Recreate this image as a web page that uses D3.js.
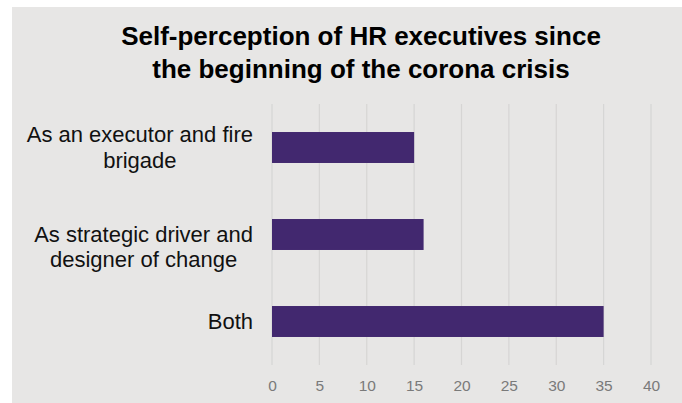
<!DOCTYPE html>
<html><head><meta charset="utf-8">
<script src="https://cdn.jsdelivr.net/npm/d3@7"></script>
<style>body{margin:0;background:#fff}svg{display:block}</style>
</head><body>
<script>
const categories = [["As an executor and fire","brigade"],["As strategic driver and","designer of change"],["Both"]];
const values = [15, 16, 35];
const tickValues = [0,5,10,15,20,25,30,35,40];
const titleLines = ["Self-perception of HR executives since","the beginning of the corona crisis"];

const W = 682, H = 403;
const svg = d3.select("body").append("svg").attr("width", W).attr("height", H);
svg.append("rect").attr("x",12).attr("y",7).attr("width",W-12).attr("height",H-7).attr("fill","#e7e6e5");

const x = d3.scaleLinear().domain([0,40]).range([272,651]);
const y = d3.scaleBand().domain(d3.range(categories.length)).range([104,365]).paddingInner(0.644).paddingOuter(0.322);

// gridlines
svg.append("g").selectAll("line").data(tickValues).join("line")
  .attr("x1",d=>x(d)).attr("x2",d=>x(d)).attr("y1",104).attr("y2",365)
  .attr("stroke","#d6d5d4").attr("stroke-width",1.2);

// bars
svg.append("g").selectAll("rect").data(values).join("rect")
  .attr("x",x(0)).attr("y",(d,i)=>y(i)).attr("width",d=>x(d)-x(0)).attr("height",y.bandwidth())
  .attr("fill","#42286f");

// x axis
const xAxis = d3.axisBottom(x).tickValues(tickValues).tickSize(0).tickPadding(0);
const gx = svg.append("g").attr("transform","translate(0,380)").call(xAxis);
gx.select(".domain").remove();
gx.selectAll("text").attr("font-family","Liberation Sans, Arial, sans-serif").attr("font-size",15.5).attr("fill","#7a7a7a").attr("dy","0.71em");

// category labels (Excel-style wrapped labels, block right-aligned, lines centred)
const labelRight = 253, lh = 25.5;
const labelShift = i => (i === 1 ? 12.5 : 0);
categories.forEach((lines,i)=>{
  const cy = y(i) + y.bandwidth()/2 + labelShift(i);
  const g = svg.append("g");
  const texts = lines.map((t,j)=> g.append("text").text(t)
    .attr("font-family","Liberation Sans, Arial, sans-serif").attr("font-size",22).attr("fill","#111")
    .attr("text-anchor","middle").attr("dominant-baseline","central")
    .attr("y", cy + (j - (lines.length-1)/2)*lh));
  const widths = texts.map(t=>t.node().getComputedTextLength());
  const maxW = d3.max(widths);
  texts.forEach(t=>t.attr("x", labelRight - maxW/2));
});

// title
svg.append("g").selectAll("text").data(titleLines).join("text")
  .attr("x",361).attr("y",(d,i)=>36+i*33).attr("dominant-baseline","central")
  .attr("text-anchor","middle").attr("font-family","Liberation Sans, Arial, sans-serif")
  .attr("font-weight","bold").attr("font-size",26).attr("fill","#000").text(d=>d);
</script>
</body></html>
